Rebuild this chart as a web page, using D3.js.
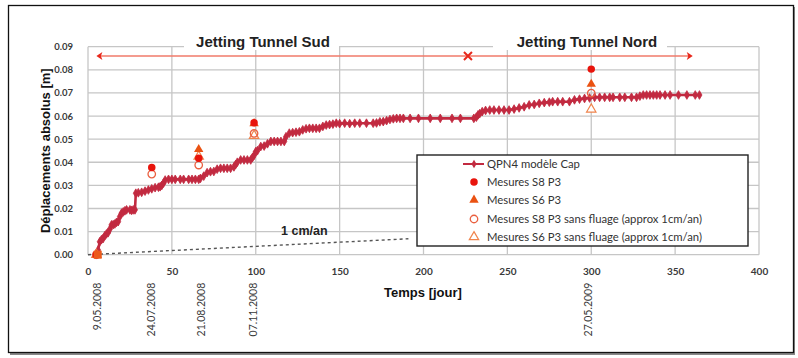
<!DOCTYPE html>
<html>
<head>
<meta charset="utf-8">
<script src="https://cdn.jsdelivr.net/npm/d3@7"></script>
<style>
  body { margin: 0; background: #fff; }
  svg text { font-family: Lato, "Open Sans", sans-serif; }
  .bold { font-family: "Liberation Sans", Arial, sans-serif !important; font-weight: bold; }
</style>
</head>
<body>
<div id="chart"></div>
<script>

// x axis ticks (days) and y axis ticks (m)
var xTicks = [0, 50, 100, 150, 200, 250, 300, 350, 400];
var yTicks = [0, 0.01, 0.02, 0.03, 0.04, 0.05, 0.06, 0.07, 0.08, 0.09];

// QPN4 modèle Cap
var modelDays = [5, 6, 7, 8, 9, 10, 11, 12, 13, 14, 15, 16, 17, 18, 19, 20, 21, 22, 23, 25, 26, 27, 28,
  28.5, 30, 32, 34, 36, 38, 40, 42, 43, 44, 45, 46, 48, 50, 52, 55, 57, 60, 62, 64, 66,
  67, 69, 71, 73, 75, 77, 79, 81, 83, 85, 87, 88, 89, 91, 93, 95, 97, 98, 99, 100, 101, 103,
  105, 107, 109, 111, 113, 115, 117, 118, 120, 122, 124, 126, 128, 130, 132, 134, 136, 138,
  140, 142, 144, 146, 148, 150, 153, 156, 159, 162, 166, 170, 172, 174, 176, 178, 180, 182,
  184, 186, 188, 192, 197, 204, 210, 217, 222, 230, 231.5, 232.5, 233.5, 235, 237, 239.5,
  242, 245, 248, 251, 254, 257, 260, 263, 266, 269, 272, 275, 277, 280, 283, 287, 290, 293,
  296, 299, 302, 305, 308, 311, 313, 317, 320, 324, 327, 329, 331, 333, 335, 337, 339, 341,
  344, 347, 352, 357, 362, 364.5];
var modelVals = [0, 0.002, 0.0056, 0.0065, 0.007, 0.0082, 0.009, 0.0095, 0.011, 0.0129, 0.013, 0.0133, 0.014, 0.0143, 0.0165, 0.018, 0.0185, 0.019, 0.0194, 0.0194, 0.0192, 0.0194, 0.0194,
  0.0266, 0.0268, 0.027, 0.0275, 0.028, 0.0285, 0.029, 0.0292, 0.0294, 0.030, 0.031, 0.0323, 0.0326, 0.0326, 0.0326, 0.0326, 0.0326, 0.0326, 0.0326, 0.0326, 0.0326,
  0.033, 0.034, 0.0355, 0.0359, 0.036, 0.037, 0.0374, 0.0374, 0.0374, 0.0374, 0.038, 0.039, 0.040, 0.041, 0.041, 0.041, 0.041, 0.042, 0.043, 0.0446, 0.045, 0.0468,
  0.047, 0.048, 0.049, 0.049, 0.049, 0.049, 0.049, 0.051, 0.0526, 0.0528, 0.053, 0.0532, 0.054, 0.0545, 0.0547, 0.0547, 0.0547, 0.0547,
  0.0555, 0.0561, 0.0563, 0.0565, 0.0569, 0.0567, 0.0569, 0.0567, 0.0569, 0.0569, 0.0569, 0.0569, 0.057, 0.0575, 0.0576, 0.058, 0.0585, 0.0588,
  0.059, 0.059, 0.059, 0.059, 0.059, 0.059, 0.059, 0.059, 0.059, 0.059, 0.0595, 0.0605, 0.061, 0.0619, 0.0624, 0.0626,
  0.0626, 0.0626, 0.0626, 0.0626, 0.063, 0.0635, 0.064, 0.0648, 0.065, 0.0655, 0.0658, 0.066, 0.0662, 0.0662, 0.0662, 0.0662, 0.067, 0.0673,
  0.0676, 0.0678, 0.0681, 0.0681, 0.0681, 0.0681, 0.0681, 0.0681, 0.0681, 0.0681, 0.0681, 0.0686, 0.0691, 0.0691, 0.0691, 0.0691, 0.0691, 0.0691,
  0.0691, 0.0691, 0.0691, 0.0691, 0.0691, 0.0691];

// mesures
var s8Days = [5, 38, 66, 99, 300];
var s8Vals = [0, 0.0377, 0.0417, 0.0571, 0.0803];
var s6Days = [5, 66, 99, 300];
var s6Vals = [0, 0.0456, 0.0568, 0.0738];
var s8nfDays = [5, 38, 66, 99, 300];
var s8nfVals = [0, 0.0349, 0.0388, 0.0525, 0.0699];
var s6nfDays = [5, 66, 99, 300];
var s6nfVals = [0, 0.0425, 0.0515, 0.0629];

// 1 cm/an reference line
var refDays = [0, 191];
var refVals = [0, 0.0069];

// jetting phases (arrow)
var arrowDays = [5, 226.5, 360.5];
var arrowVal = 0.086;

// dates under the axis
var dateDays = [5.8, 37.8, 67.3, 98.5, 298.5];
var dateLabels = ["9.05.2008", "24.07.2008", "21.08.2008", "07.11.2008", "27.05.2009"];

var legendLabels = ["QPN4 modèle Cap", "Mesures S8 P3", "Mesures S6 P3",
  "Mesures S8 P3 sans fluage (approx 1cm/an)", "Mesures S6 P3 sans fluage (approx 1cm/an)"];

var W = 798, H = 358;
var margin = {top: 46.7, right: 39, bottom: 103.3, left: 88};
var width = W - margin.left - margin.right,
    height = H - margin.top - margin.bottom;

var lineCol = "#c22a40", s8Col = "#e8140c", s6Col = "#ea5212", s8nfCol = "#ea6040", s6nfCol = "#f0844c";

var svg = d3.select("#chart").append("svg")
    .attr("width", W)
    .attr("height", H);

// outer frame with shadow
svg.append("rect").attr("x", 10).attr("y", 7).attr("width", 785).attr("height", 348)
    .attr("fill", "#888");
svg.append("rect").attr("x", 8.5).attr("y", 5.5).attr("width", 785).attr("height", 347)
    .attr("fill", "#fff").attr("stroke", "#111").attr("stroke-width", 1.3);

var g = svg.append("g")
    .attr("transform", "translate(" + margin.left + "," + margin.top + ")");

var x = d3.scaleLinear().domain([0, 400]).range([0, width]);
var y = d3.scaleLinear().domain([0, 0.09]).range([height, 0]);

// grid
g.selectAll(".hgrid").data(yTicks).enter().append("line")
    .attr("x1", 0).attr("x2", width)
    .attr("y1", function(d) { return y(d); }).attr("y2", function(d) { return y(d); })
    .attr("stroke", "#c6c6c6").attr("stroke-width", 1.3);
g.selectAll(".vgrid").data(xTicks).enter().append("line")
    .attr("y1", 0).attr("y2", height)
    .attr("x1", function(d) { return x(d); }).attr("x2", function(d) { return x(d); })
    .attr("stroke", "#c6c6c6").attr("stroke-width", 1.3);

// axes
var yAxis = g.append("g")
    .call(d3.axisLeft(y).tickValues(yTicks).tickFormat(d3.format(".2f")).tickSize(0).tickPadding(15));
yAxis.select(".domain").remove();
yAxis.selectAll("text").attr("fill", "#3a3a3a").style("font-size", "9.5px").style("font-weight", "bold");

var xAxis = g.append("g")
    .attr("transform", "translate(0," + height + ")")
    .call(d3.axisBottom(x).tickValues(xTicks).tickSize(0).tickPadding(13));
xAxis.select(".domain").remove();
xAxis.selectAll("text").attr("fill", "#3a3a3a").style("font-size", "10px").style("font-weight", "bold");

// date labels
g.selectAll(".date").data(dateDays).enter().append("text")
    .attr("transform", function(d) { return "translate(" + (x(d) + 3.7) + "," + (height + 28) + ") rotate(-90)"; })
    .attr("text-anchor", "end")
    .attr("fill", "#3a3a3a")
    .style("font-size", "10.5px")
    .text(function(d, i) { return dateLabels[i]; });

// axis titles
svg.append("text").attr("class", "bold")
    .attr("transform", "translate(50," + (margin.top + height / 2) + ") rotate(-90)")
    .attr("text-anchor", "middle")
    .style("font-size", "13px")
    .attr("fill", "#111")
    .text("Déplacements absolus  [m]");
svg.append("text").attr("class", "bold")
    .attr("x", 423).attr("y", 297)
    .attr("text-anchor", "middle")
    .style("font-size", "13px")
    .attr("fill", "#111")
    .text("Temps [jour]");

// titles with white boxes
var titles = [{t: "Jetting Tunnel Sud", x0: 184, x1: 339, cx: 263}, {t: "Jetting Tunnel Nord", x0: 493, x1: 667, cx: 587}];
titles.forEach(function(d) {
  svg.append("rect").attr("x", d.x0).attr("y", 28).attr("width", d.x1 - d.x0).attr("height", 22).attr("fill", "#fff");
  svg.append("text").attr("class", "bold")
    .attr("x", d.cx).attr("y", 46.5)
    .attr("text-anchor", "middle")
    .style("font-size", "15px")
    .attr("fill", "#222")
    .text(d.t);
});

// arrow
var ay = y(arrowVal);
g.append("line").attr("x1", x(arrowDays[0]) + 3).attr("x2", x(arrowDays[2]) - 3)
    .attr("y1", ay).attr("y2", ay).attr("stroke", "#f07a6a").attr("stroke-width", 1.5);
g.append("path")
    .attr("d", "M" + x(arrowDays[0]) + "," + ay + "l6,-4l-1.5,4l1.5,4z")
    .attr("fill", "#e8281c");
g.append("path")
    .attr("d", "M" + x(arrowDays[2]) + "," + ay + "l-6,-4l1.5,4l-1.5,4z")
    .attr("fill", "#e8281c");
g.append("path")
    .attr("d", "M" + (x(arrowDays[1]) - 4) + "," + (ay - 4) + "l8,8M" + (x(arrowDays[1]) + 4) + "," + (ay - 4) + "l-8,8")
    .attr("stroke", "#e8281c").attr("stroke-width", 2);

// 1 cm/an
g.append("line")
    .attr("x1", x(refDays[0])).attr("y1", y(refVals[0]))
    .attr("x2", x(refDays[1])).attr("y2", y(refVals[1]))
    .attr("stroke", "#555").attr("stroke-width", 1.4).attr("stroke-dasharray", "3,3");
g.append("text").attr("class", "bold")
    .attr("x", x(129)).attr("y", y(0.0085))
    .attr("text-anchor", "middle")
    .style("font-size", "12.5px")
    .attr("fill", "#222")
    .text("1 cm/an");

// model line
var model = modelDays.map(function(d, i) { return [d, modelVals[i]]; });
var line = d3.line().x(function(d) { return x(d[0]); }).y(function(d) { return y(d[1]); });
g.append("path").datum(model).attr("d", line)
    .attr("fill", "none").attr("stroke", lineCol).attr("stroke-width", 2.6);
var diamond = d3.symbol().type(d3.symbolDiamond).size(22);
g.selectAll(".mk").data(model).enter().append("path")
    .attr("d", diamond)
    .attr("transform", function(d) { return "translate(" + x(d[0]) + "," + y(d[1]) + ")"; })
    .attr("fill", lineCol).attr("stroke", lineCol).attr("stroke-width", 0.8);

// measurement points
function pts(days, vals) { return days.map(function(d, i) { return [d, vals[i]]; }); }
var circ = d3.symbol().type(d3.symbolCircle).size(44);
var tri = d3.symbol().type(d3.symbolTriangle).size(38);

g.selectAll(".s6nf").data(pts(s6nfDays, s6nfVals)).enter().append("path")
    .attr("d", tri)
    .attr("transform", function(d) { return "translate(" + x(d[0]) + "," + y(d[1]) + ")"; })
    .attr("fill", "#fff").attr("stroke", s6nfCol).attr("stroke-width", 1.2);
g.selectAll(".s8nf").data(pts(s8nfDays, s8nfVals)).enter().append("path")
    .attr("d", circ)
    .attr("transform", function(d) { return "translate(" + x(d[0]) + "," + y(d[1]) + ")"; })
    .attr("fill", "none").attr("stroke", s8nfCol).attr("stroke-width", 1.3);
g.selectAll(".s6").data(pts(s6Days, s6Vals)).enter().append("path")
    .attr("d", tri)
    .attr("transform", function(d) { return "translate(" + x(d[0]) + "," + y(d[1]) + ")"; })
    .attr("fill", s6Col);
g.selectAll(".s8").data(pts(s8Days, s8Vals)).enter().append("path")
    .attr("d", circ)
    .attr("transform", function(d) { return "translate(" + x(d[0]) + "," + y(d[1]) + ")"; })
    .attr("fill", s8Col);
// square marker at origin
g.append("rect").attr("x", x(5.8) - 4).attr("y", y(0) - 4).attr("width", 8).attr("height", 8)
    .attr("fill", "#ec5a1a");

// legend
var lg = svg.append("g").attr("transform", "translate(417,155)");
lg.append("rect").attr("width", 331).attr("height", 91)
    .attr("fill", "#fff").attr("stroke", "#222").attr("stroke-width", 1.4);
var rowY = [9, 27, 45, 64, 82];
lg.selectAll(".lt").data(legendLabels).enter().append("text")
    .attr("x", 70).attr("y", function(d, i) { return rowY[i] + 4; })
    .attr("fill", "#333")
    .style("font-size", "11.3px")
    .text(function(d) { return d; });
lg.append("line").attr("x1", 46).attr("x2", 67).attr("y1", rowY[0]).attr("y2", rowY[0])
    .attr("stroke", lineCol).attr("stroke-width", 2);
lg.append("path").attr("d", diamond).attr("transform", "translate(57," + rowY[0] + ")").attr("fill", lineCol);
lg.append("path").attr("d", circ).attr("transform", "translate(57," + rowY[1] + ")").attr("fill", s8Col);
lg.append("path").attr("d", tri).attr("transform", "translate(57," + rowY[2] + ")").attr("fill", s6Col);
lg.append("path").attr("d", circ).attr("transform", "translate(57," + rowY[3] + ")")
    .attr("fill", "none").attr("stroke", s8nfCol).attr("stroke-width", 1.3);
lg.append("path").attr("d", tri).attr("transform", "translate(57," + rowY[4] + ")")
    .attr("fill", "none").attr("stroke", s6nfCol).attr("stroke-width", 1.2);

</script>
</body>
</html>
